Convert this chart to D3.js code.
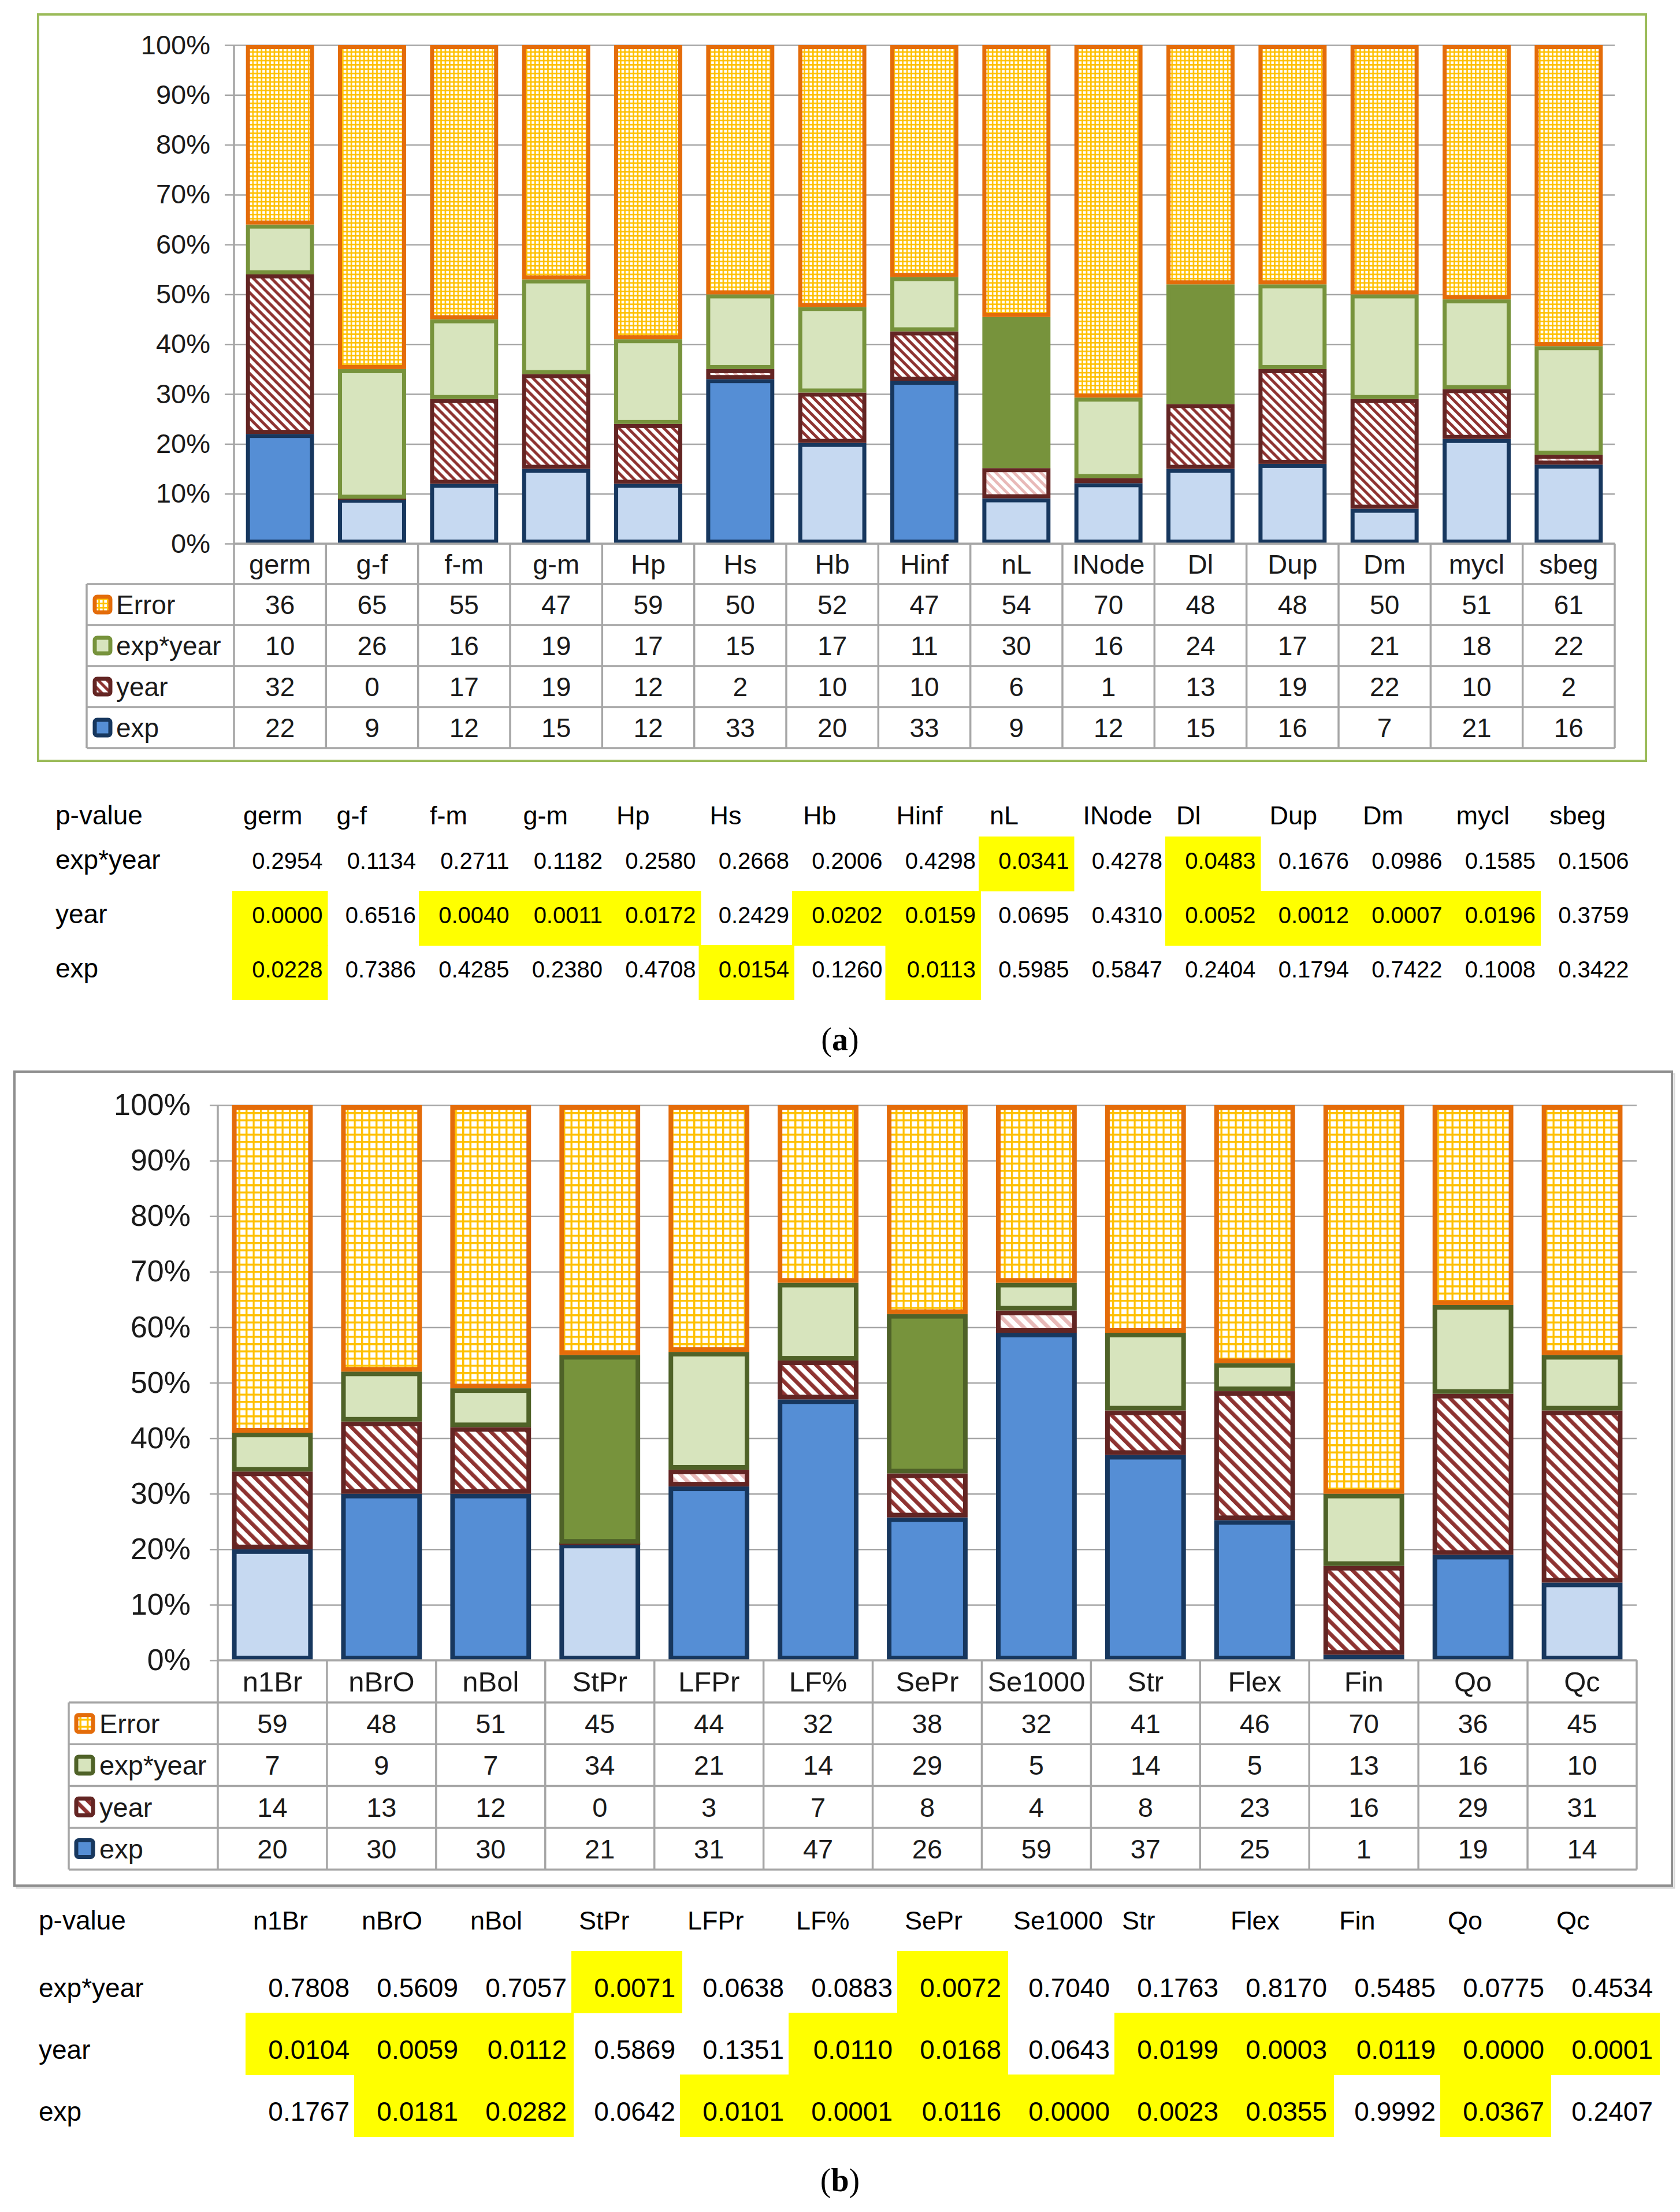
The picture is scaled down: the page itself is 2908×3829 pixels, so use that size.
<!DOCTYPE html>
<html>
<head>
<meta charset="utf-8">
<script src="https://cdn.jsdelivr.net/npm/d3@7"></script>
<style>
  html, body { margin: 0; padding: 0; background: #fff; }
  svg { display: block; font-family: "Liberation Sans", Arial, sans-serif; }
</style>
</head>
<body>
<svg id="chart" width="2908" height="3829"></svg>
<script>
// ---- Panel (a) data ----
const catsA = ["germ", "g-f", "f-m", "g-m", "Hp", "Hs", "Hb", "Hinf", "nL", "INode", "Dl", "Dup", "Dm", "mycl", "sbeg"];
const errorA = [36, 65, 55, 47, 59, 50, 52, 47, 54, 70, 48, 48, 50, 51, 61];
const expYearA = [10, 26, 16, 19, 17, 15, 17, 11, 30, 16, 24, 17, 21, 18, 22];
const yearA = [32, 0, 17, 19, 12, 2, 10, 10, 6, 1, 13, 19, 22, 10, 2];
const expA = [22, 9, 12, 15, 12, 33, 20, 33, 9, 12, 15, 16, 7, 21, 16];
const pExpYearA = [0.2954, 0.1134, 0.2711, 0.1182, 0.2580, 0.2668, 0.2006, 0.4298, 0.0341, 0.4278, 0.0483, 0.1676, 0.0986, 0.1585, 0.1506];
const pYearA = [0.0000, 0.6516, 0.0040, 0.0011, 0.0172, 0.2429, 0.0202, 0.0159, 0.0695, 0.4310, 0.0052, 0.0012, 0.0007, 0.0196, 0.3759];
const pExpA = [0.0228, 0.7386, 0.4285, 0.2380, 0.4708, 0.0154, 0.1260, 0.0113, 0.5985, 0.5847, 0.2404, 0.1794, 0.7422, 0.1008, 0.3422];

// ---- Panel (b) data ----
const catsB = ["n1Br", "nBrO", "nBol", "StPr", "LFPr", "LF%", "SePr", "Se1000", "Str", "Flex", "Fin", "Qo", "Qc"];
const errorB = [59, 48, 51, 45, 44, 32, 38, 32, 41, 46, 70, 36, 45];
const expYearB = [7, 9, 7, 34, 21, 14, 29, 5, 14, 5, 13, 16, 10];
const yearB = [14, 13, 12, 0, 3, 7, 8, 4, 8, 23, 16, 29, 31];
const expB = [20, 30, 30, 21, 31, 47, 26, 59, 37, 25, 1, 19, 14];
const pExpYearB = [0.7808, 0.5609, 0.7057, 0.0071, 0.0638, 0.0883, 0.0072, 0.7040, 0.1763, 0.8170, 0.5485, 0.0775, 0.4534];
const pYearB = [0.0104, 0.0059, 0.0112, 0.5869, 0.1351, 0.0110, 0.0168, 0.0643, 0.0199, 0.0003, 0.0119, 0.0000, 0.0001];
const pExpB = [0.1767, 0.0181, 0.0282, 0.0642, 0.0101, 0.0001, 0.0116, 0.0000, 0.0023, 0.0355, 0.9992, 0.0367, 0.2407];

const yTicks = [0, 0.1, 0.2, 0.3, 0.4, 0.5, 0.6, 0.7, 0.8, 0.9, 1];
const tableRows = [
  { key: "error", label: "Error" },
  { key: "expYear", label: "exp*year" },
  { key: "year", label: "year" },
  { key: "exp", label: "exp" },
];
const pRowLabels = ["exp*year", "year", "exp"];

const ALPHA = 0.05;
const gridColor = "#a6a6a6";
const textColor = "#1a1a1a";

const svg = d3.select("#chart");
const defs = svg.append("defs");

// Patterns
function makeGrid(id, size, lw) {
  const p = defs.append("pattern")
    .attr("id", id)
    .attr("patternUnits", "userSpaceOnUse")
    .attr("width", size)
    .attr("height", size);
  p.append("rect").attr("width", size).attr("height", size).attr("fill", "#fff");
  p.append("rect").attr("width", lw).attr("height", size).attr("fill", "#ffc000");
  p.append("rect").attr("width", size).attr("height", lw).attr("fill", "#ffc000");
}

function makeHatch(id, size, color) {
  const p = defs.append("pattern")
    .attr("id", id)
    .attr("patternUnits", "userSpaceOnUse")
    .attr("width", size)
    .attr("height", size)
    .attr("patternTransform", "rotate(-45)");
  p.append("rect").attr("width", size).attr("height", size).attr("fill", "#fff");
  p.append("rect").attr("width", size * 0.45).attr("height", size).attr("fill", color);
}

makeGrid("gridA", 7.4, 2.6);
makeGrid("gridB", 12.5, 3.4);
makeHatch("hatchDarkA", 11, "#8e3331");
makeHatch("hatchLightA", 11, "#e8b9b8");
makeHatch("hatchDarkB", 15, "#8e3331");
makeHatch("hatchLightB", 15, "#e8b9b8");

// Layout per panel
const layoutA = {
  id: "A",
  frame: { x: 66, y: 25, w: 2783, h: 1292, stroke: "#9bbb59", shadow: false },
  x0: 405, x1: 2795, yTop: 78, yBot: 941,
  catRowH: 70, rowH: 71, tableLeft: 150,
  tickLen: 16, tickPad: 25, tickFont: 47, catFont: 47, cellFont: 46,
  swatchX: 161, labelX: 201, swatch: 33,
  sw: 7, greenStroke: "#77933c",
  p: { labelX: 96, colX0: 404, pitch: 161.5, headerY: 1427, rowTop: 1448, rowH: 94, base: 56,
       numFont: 40, headFont: 45, labelFont: 46, headPad: 17, numPad: 7 },
  caption: { x: 1454, y: 1818, letter: "a" },
};

const layoutB = {
  id: "B",
  frame: { x: 25, y: 1855, w: 2869, h: 1409, stroke: "#8e8e8e", shadow: true },
  x0: 377, x1: 2833, yTop: 1913, yBot: 2874,
  catRowH: 73, rowH: 72.3, tableLeft: 119,
  tickLen: 14, tickPad: 33, tickFont: 52, catFont: 49, cellFont: 47,
  swatchX: 129, labelX: 172, swatch: 35,
  sw: 8, greenStroke: "#4f6228",
  p: { labelX: 67, colX0: 427, pitch: 188, headerY: 3340, rowTop: 3377, rowH: 107, base: 80,
       numFont: 46, headFont: 45, labelFont: 46, headPad: 11, numPad: 10 },
  caption: { x: 1454, y: 3793, letter: "b" },
};

function segStyle(L, key, sig) {
  if (key === "exp") return { fill: sig ? "#558ed5" : "#c6d9f1", stroke: "#17375e" };
  if (key === "year") return { fill: `url(#${sig ? "hatchDark" : "hatchLight"}${L.id})`, stroke: "#632523" };
  if (key === "expYear") return { fill: sig ? "#77933c" : "#d7e4bd", stroke: L.greenStroke };
  return { fill: `url(#grid${L.id})`, stroke: "#e46c0a" };
}

function legendStyle(L, key) {
  if (key === "exp") return { fill: "#558ed5", stroke: "#17375e" };
  if (key === "year") return { fill: `url(#hatchDark${L.id})`, stroke: "#632523" };
  if (key === "expYear") return { fill: "#d7e4bd", stroke: L.greenStroke };
  return { fill: `url(#grid${L.id})`, stroke: "#e46c0a" };
}

function drawPanel(L, cats, series, pvals) {
  const g = svg.append("g").attr("class", "panel-" + L.id);

  // Frame
  const f = L.frame;
  if (f.shadow) {
    g.append("rect")
      .attr("x", f.x + 4).attr("y", f.y + 4).attr("width", f.w).attr("height", f.h)
      .attr("fill", "none").attr("stroke", "#d9d9d9").attr("stroke-width", 3);
  }
  g.append("rect")
    .attr("x", f.x).attr("y", f.y).attr("width", f.w).attr("height", f.h)
    .attr("fill", "#fff").attr("stroke", f.stroke).attr("stroke-width", 4);

  const rows = cats.map((c, i) => ({
    cat: c,
    exp: series.exp[i],
    year: series.year[i],
    expYear: series.expYear[i],
    error: series.error[i],
  }));
  const pByKey = { exp: pvals.exp, year: pvals.year, expYear: pvals.expYear };

  const x = d3.scaleBand()
    .domain(cats)
    .range([L.x0, L.x1])
    .paddingInner(0.26)
    .paddingOuter(0.13);
  const step = x.step();

  const y = d3.scaleLinear().domain([0, 1]).range([L.yBot, L.yTop]);

  // Gridlines
  const grid = g.append("g")
    .attr("transform", `translate(${L.x0},0)`)
    .call(d3.axisLeft(y).tickValues(yTicks).tickFormat("").tickSize(-(L.x1 - L.x0)));
  grid.select(".domain").remove();
  grid.selectAll("line").attr("stroke", gridColor).attr("stroke-width", 2.5);

  // Y axis labels with short ticks
  const yAxis = g.append("g")
    .attr("transform", `translate(${L.x0},0)`)
    .call(d3.axisLeft(y).tickValues(yTicks).tickFormat(d3.format(".0%"))
      .tickSize(L.tickLen).tickPadding(L.tickPad));
  yAxis.select(".domain").remove();
  yAxis.selectAll("line").attr("stroke", gridColor).attr("stroke-width", 2.5);
  yAxis.selectAll("text")
    .attr("font-size", L.tickFont)
    .attr("font-family", "'Liberation Sans', Arial, sans-serif")
    .attr("fill", textColor);

  // Stacked bars
  const keys = ["exp", "year", "expYear", "error"];
  const stacked = d3.stack().keys(keys).offset(d3.stackOffsetExpand)(rows);

  stacked.forEach((layer) => {
    const key = layer.key;
    const lg = g.append("g").attr("class", "layer-" + key);
    layer.forEach((d, i) => {
      const sig = key === "error" ? false : pByKey[key][i] < ALPHA;
      const st = segStyle(L, key, sig);
      const bx = x(d.data.cat);
      const bw = x.bandwidth();
      const yt = y(d[1]);
      const h = y(d[0]) - yt;
      if (h >= L.sw * 1.2) {
        lg.append("rect")
          .attr("x", bx + L.sw / 2)
          .attr("y", yt + L.sw / 2)
          .attr("width", bw - L.sw)
          .attr("height", h - L.sw)
          .attr("fill", st.fill)
          .attr("stroke", st.stroke)
          .attr("stroke-width", L.sw);
      } else {
        // very thin or zero segment: only its outline remains visible
        const th = Math.max(h, L.sw * 0.55);
        lg.append("rect")
          .attr("x", bx)
          .attr("y", yt + h / 2 - th / 2)
          .attr("width", bw)
          .attr("height", th)
          .attr("fill", st.stroke);
      }
    });
  });

  // Data table under the chart
  const tTop = L.yBot + L.catRowH;
  const tBot = tTop + L.rowH * tableRows.length;
  const tg = g.append("g").attr("class", "table");
  const lineAttrs = (sel) => sel.attr("stroke", gridColor).attr("stroke-width", 3.5);

  // horizontal lines
  tableRows.forEach((r, i) => {
    tg.append("line").call(lineAttrs)
      .attr("x1", L.tableLeft).attr("x2", L.x1)
      .attr("y1", tTop + i * L.rowH).attr("y2", tTop + i * L.rowH);
  });
  tg.append("line").call(lineAttrs)
    .attr("x1", L.tableLeft).attr("x2", L.x1).attr("y1", tBot).attr("y2", tBot);
  // axis line + column separators
  tg.append("line").call(lineAttrs)
    .attr("x1", L.x0).attr("x2", L.x0).attr("y1", L.yTop).attr("y2", tBot);
  cats.forEach((c, i) => {
    const xr = L.x0 + (i + 1) * step;
    tg.append("line").call(lineAttrs)
      .attr("x1", xr).attr("x2", xr).attr("y1", L.yBot).attr("y2", tBot);
  });
  tg.append("line").call(lineAttrs)
    .attr("x1", L.tableLeft).attr("x2", L.tableLeft).attr("y1", tTop).attr("y2", tBot);
  tg.append("line").call(lineAttrs)
    .attr("x1", L.x0).attr("x2", L.x1).attr("y1", L.yBot).attr("y2", L.yBot);

  // category labels
  tg.selectAll("text.cat")
    .data(cats)
    .join("text")
    .attr("class", "cat")
    .attr("x", (d) => x(d) + x.bandwidth() / 2)
    .attr("y", L.yBot + L.catRowH / 2 + L.catFont * 0.36)
    .attr("text-anchor", "middle")
    .attr("font-size", L.catFont)
    .attr("fill", textColor)
    .text((d) => d);

  // rows
  tableRows.forEach((r, ri) => {
    const rowMid = tTop + ri * L.rowH + L.rowH / 2;
    const ls = legendStyle(L, r.key);
    tg.append("rect")
      .attr("x", L.swatchX + 3)
      .attr("y", rowMid - L.swatch / 2 + 3)
      .attr("width", L.swatch - 6)
      .attr("height", L.swatch - 6)
      .attr("rx", 4)
      .attr("fill", ls.fill)
      .attr("stroke", ls.stroke)
      .attr("stroke-width", 7);
    tg.append("text")
      .attr("x", L.labelX)
      .attr("y", rowMid + L.cellFont * 0.36)
      .attr("font-size", L.cellFont)
      .attr("fill", textColor)
      .text(r.label);
    tg.selectAll(null)
      .data(rows)
      .join("text")
      .attr("x", (d) => x(d.cat) + x.bandwidth() / 2)
      .attr("y", rowMid + L.cellFont * 0.36)
      .attr("text-anchor", "middle")
      .attr("font-size", L.cellFont)
      .attr("fill", textColor)
      .text((d) => d[r.key]);
  });

  // p-value table
  const P = L.p;
  const pg = g.append("g").attr("class", "pvalues");
  const px = d3.scaleLinear().domain([0, cats.length]).range([P.colX0, P.colX0 + cats.length * P.pitch]);
  const fmt = d3.format(".4f");
  const pRows = [pvals.expYear, pvals.year, pvals.exp];

  // yellow highlight for significant values
  pRows.forEach((vals, ri) => {
    vals.forEach((v, ci) => {
      if (v < ALPHA) {
        pg.append("rect")
          .attr("x", px(ci) - 2)
          .attr("y", P.rowTop + ri * P.rowH)
          .attr("width", P.pitch + 4)
          .attr("height", P.rowH + 1)
          .attr("fill", "#ffff00");
      }
    });
  });

  pg.append("text")
    .attr("x", P.labelX).attr("y", P.headerY)
    .attr("font-size", P.labelFont).attr("fill", "#000")
    .text("p-value");
  pg.selectAll("text.phead")
    .data(cats)
    .join("text")
    .attr("class", "phead")
    .attr("x", (d, i) => px(i) + P.headPad)
    .attr("y", P.headerY)
    .attr("font-size", P.headFont)
    .attr("fill", "#000")
    .text((d) => d);

  pRows.forEach((vals, ri) => {
    const base = P.rowTop + ri * P.rowH + P.base;
    pg.append("text")
      .attr("x", P.labelX).attr("y", base)
      .attr("font-size", P.labelFont).attr("fill", "#000")
      .text(pRowLabels[ri]);
    pg.selectAll(null)
      .data(vals)
      .join("text")
      .attr("x", (d, i) => px(i + 1) - P.numPad)
      .attr("y", base)
      .attr("text-anchor", "end")
      .attr("font-size", P.numFont)
      .attr("fill", "#000")
      .text((d) => fmt(d));
  });

  // caption
  const cap = g.append("text")
    .attr("x", L.caption.x)
    .attr("y", L.caption.y)
    .attr("text-anchor", "middle")
    .attr("font-family", "'Liberation Serif', 'Times New Roman', serif")
    .attr("font-size", 56)
    .attr("fill", "#000");
  cap.append("tspan").text("(");
  cap.append("tspan").attr("font-weight", "bold").text(L.caption.letter);
  cap.append("tspan").text(")");
}

drawPanel(
  layoutA,
  catsA,
  { exp: expA, year: yearA, expYear: expYearA, error: errorA },
  { exp: pExpA, year: pYearA, expYear: pExpYearA }
);
drawPanel(
  layoutB,
  catsB,
  { exp: expB, year: yearB, expYear: expYearB, error: errorB },
  { exp: pExpB, year: pYearB, expYear: pExpYearB }
);
</script>
</body>
</html>
